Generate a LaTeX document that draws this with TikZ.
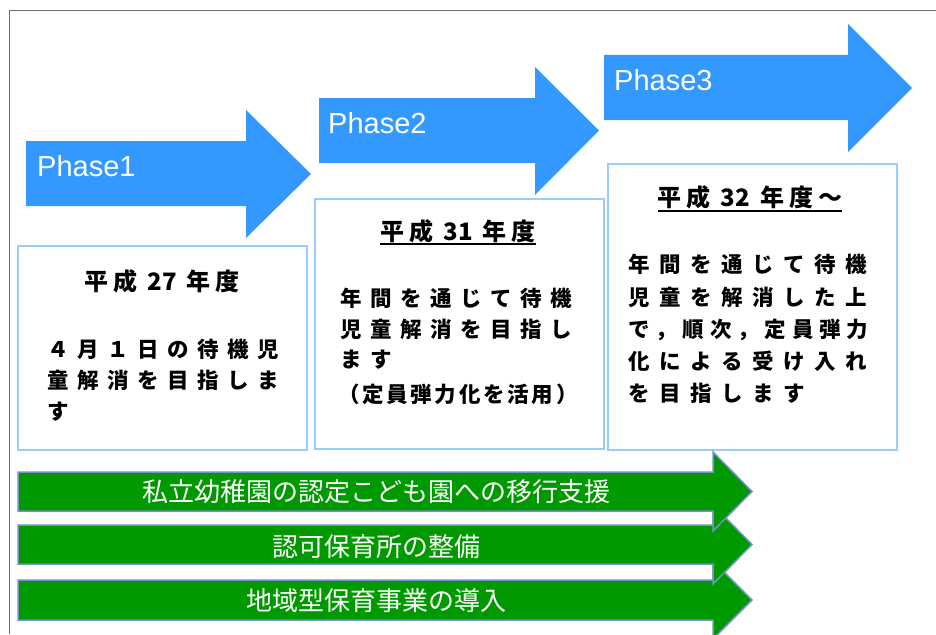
\documentclass[tikz,border=0pt]{standalone}
\usepackage{fontspec}
\setmainfont{Liberation Sans}
\newfontfamily\jp{Noto Sans CJK JP}
\definecolor{phaseblue}{HTML}{3399FF}
\definecolor{boxblue}{HTML}{99CCFF}
\definecolor{arrgreen}{HTML}{009900}
\definecolor{arrborder}{HTML}{7393C3}
\definecolor{framegray}{HTML}{6E6E6E}
\ExplSyntaxOn
\NewDocumentCommand\pline{ m m }{ \tl_map_inline:nn {#2} { \makebox[#1][l]{##1} } }
\ExplSyntaxOff
\tikzset{
  phasearrow/.style={fill=phaseblue, draw=none},
  phasetext/.style={text=white, inner sep=0pt, anchor=base west, font=\fontsize{29}{34}\selectfont},
  infobox/.style={draw=boxblue, line width=2.5pt, fill=white},
  titletext/.style={inner sep=0pt, anchor=base, font=\jp\bfseries\fontsize{24}{28}\selectfont},
  bodytext/.style={inner sep=0pt, anchor=base west, font=\jp\bfseries\fontsize{21.5}{24}\selectfont},
  greenarrow/.style={fill=arrgreen, draw=arrborder, line width=1.5pt, line join=miter},
  greentext/.style={text=white, inner sep=0pt, anchor=base, font=\jp\fontsize{26}{30}\selectfont},
  uline/.style={line width=2pt, black},
  frameline/.style={draw=framegray, line width=1.5pt}
}
\begin{document}
\begin{tikzpicture}[x=1pt, y=-1pt]
\useasboundingbox (0,0) rectangle (936,634);
\fill[white] (0,0) rectangle (936,634);
% frame
\draw[frameline] (936,10.5) -- (9.5,10.5) -- (9.5,634);
% phase arrows
\fill[phasearrow] (26,141) -- (246,141) -- (246,110) -- (311,174) -- (246,238) -- (246,206) -- (26,206) -- cycle;
\fill[phasearrow] (319,98) -- (535,98) -- (535,67) -- (599,130.5) -- (535,195) -- (535,163) -- (319,163) -- cycle;
\fill[phasearrow] (604,55) -- (848,55) -- (848,24) -- (912,88) -- (848,152) -- (848,120) -- (604,120) -- cycle;
\node[phasetext] (p1) at (37,176) {Phase1};
\node[phasetext] (p2) at (328,133) {Phase2};
\node[phasetext] (p3) at (614,90) {Phase3};
% boxes
\draw[infobox] (18,246) rectangle (307,450);
\draw[infobox] (315,199) rectangle (604,449);
\draw[infobox] (608,164) rectangle (897,450);
% box 1
\node[titletext] (t1) at (162,290) {平\hspace{5pt}成\hspace{10pt}27\hspace{10pt}年\hspace{5pt}度};
\node[bodytext] (b1a) at (47,357) {\pline{30pt}{４月１日の待機児}};
\node[bodytext] (b1b) at (47,388) {\pline{30pt}{童解消を目指しま}};
\node[bodytext] (b1c) at (47,419) {\pline{30pt}{す}};
% box 2
\node[titletext] (t2) at (458,240) {平\hspace{5pt}成\hspace{10pt}31\hspace{10pt}年\hspace{5pt}度};
\draw[uline] (t2.base west |- 0,244) -- (t2.base east |- 0,244);
\node[bodytext] (b2a) at (340,306) {\pline{30pt}{年間を通じて待機}};
\node[bodytext] (b2b) at (340,337) {\pline{30pt}{児童解消を目指し}};
\node[bodytext] (b2c) at (340,367) {\pline{30pt}{ます}};
\node[bodytext] (b2d) at (338,402) {\pline{24.2pt}{（定員弾力化を活用）}};
% box 3
\node[titletext] (t3) at (750,206) {平\hspace{5pt}成\hspace{10pt}32\hspace{10pt}年\hspace{5pt}度\hspace{5pt}～};
\draw[uline] (t3.base west |- 0,211) -- (t3.base east |- 0,211);
\node[bodytext] (b3a) at (628,272) {\pline{31pt}{年間を通じて待機}};
\node[bodytext] (b3b) at (628,305) {\pline{31pt}{児童を解消した上}};
\node[bodytext] (b3c) at (628,337) {\makebox[240pt][s]{で\hfil ，\hfil 順\hfil 次\hfil ，\hfil 定\hfil 員\hfil 弾\hfil 力}};
\node[bodytext] (b3d) at (628,369) {\pline{31pt}{化による受け入れ}};
\node[bodytext] (b3e) at (628,401) {\pline{31pt}{を目指します}};
% green arrows (drawn bottom first)
\draw[greenarrow] (18,580) -- (713,580) -- (713,561) -- (752,600) -- (713,639) -- (713,620) -- (18,620) -- cycle;
\draw[greenarrow] (18,525) -- (713,525) -- (713,505) -- (752,544.5) -- (713,584) -- (713,564) -- (18,564) -- cycle;
\draw[greenarrow] (18,472) -- (713,472) -- (713,452) -- (752,491.5) -- (713,531) -- (713,511) -- (18,511) -- cycle;
\node[greentext] (g1) at (376,501.5) {私立幼稚園の認定こども園への移行支援};
\node[greentext] (g2) at (376,556) {認可保育所の整備};
\node[greentext] (g3) at (376,610) {地域型保育事業の導入};
\end{tikzpicture}
\end{document}
